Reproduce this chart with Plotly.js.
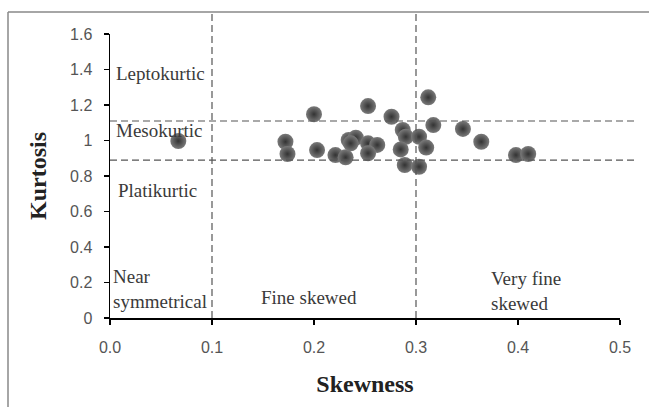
<!DOCTYPE html>
<html>
<head>
<meta charset="utf-8">
<script src="https://cdn.plot.ly/plotly-3.0.1.min.js"></script>
<style>html,body{margin:0;padding:0;background:#fff;}#chart{width:649px;height:407px;}</style>
</head>
<body>
<div id="chart"></div>
<script>
const skewness = [0.067, 0.172, 0.174, 0.200, 0.203, 0.221, 0.231, 0.234, 0.241, 0.236,
  0.253, 0.253, 0.262, 0.253, 0.276, 0.287, 0.290, 0.285, 0.289, 0.303,
  0.303, 0.312, 0.317, 0.310, 0.346, 0.364, 0.398, 0.410];
const kurtosis = [0.997, 0.993, 0.924, 1.148, 0.946, 0.918, 0.905, 1.003, 1.016, 0.984,
  1.194, 0.984, 0.975, 0.928, 1.134, 1.059, 1.021, 0.950, 0.862, 1.021,
  0.852, 1.243, 1.087, 0.960, 1.065, 0.993, 0.918, 0.924];
const skewBounds = [0.1, 0.3];
const kurtBounds = [1.11, 0.89];
const xTicks = [0, 0.1, 0.2, 0.3, 0.4, 0.5];
const yTicks = [0, 0.2, 0.4, 0.6, 0.8, 1, 1.2, 1.4, 1.6];
const regionLabels = ["Leptokurtic", "Mesokurtic", "Platikurtic", "Near<br>symmetrical", "Fine skewed", "Very fine<br>skewed"];
const regionX = [0.004, 0.004, 0.006, 0.001, 0.146, 0.372];
const regionY = [1.375, 1.054, 0.721, 0.163, 0.113, 0.152];

const serif = "Liberation Serif, Times New Roman, serif";
const shapes = [];
skewBounds.forEach(v => shapes.push({type:'line', xref:'x', yref:'paper', x0:v, x1:v, y0:0, y1:1.077,
  line:{color:'#555', width:1.2, dash:'7px,4px'}}));
kurtBounds.forEach(v => shapes.push({type:'line', xref:'paper', yref:'y', x0:0, x1:1.03, y0:v, y1:v,
  line:{color:'#555', width:1.2, dash:'7px,4px'}}));
// outer frame (left and top edges)
shapes.push({type:'line', xref:'paper', yref:'paper', x0:-0.2, x1:-0.2, y0:1.0775, y1:-0.4, line:{color:'#888', width:1.5}});
shapes.push({type:'line', xref:'paper', yref:'paper', x0:-0.2, x1:1.2, y0:1.0775, y1:1.0775, line:{color:'#888', width:1.5}});

const annotations = regionLabels.map((t, i) => ({
  x: regionX[i], y: regionY[i], xref:'x', yref:'y', text:t, showarrow:false,
  xanchor:'left', yanchor:'middle', align:'left',
  font:{family:serif, size:19, color:'#3a3a3a'}
}));

Plotly.newPlot('chart', [{
  type:'scatter', mode:'markers', x:skewness, y:kurtosis,
  marker:{size:16, color:'#7a7a7a', gradient:{type:'radial', color:'#333333'}, line:{width:0}},
  hoverinfo:'x+y', cliponaxis:false
}], {
  width:649, height:407,
  margin:{l:110, r:29, t:34, b:89},
  paper_bgcolor:'#fff', plot_bgcolor:'#fff',
  showlegend:false,
  xaxis:{range:[0,0.5], tickvals:xTicks, tickformat:'.1f', showgrid:false, zeroline:false,
    showline:true, linecolor:'#000', linewidth:1.5, ticks:'outside', ticklen:5, tickcolor:'#000', tickwidth:1.5,
    ticklabelstandoff:9,
    tickfont:{family:'Liberation Sans, Arial, sans-serif', size:16, color:'#555'},
    title:{text:'<b>Skewness</b>', font:{family:serif, size:24, color:'#222'}, standoff:20}},
  yaxis:{range:[0,1.6], tickvals:yTicks, showgrid:false, zeroline:false,
    showline:true, linecolor:'#000', linewidth:1.5, ticks:'outside', ticklen:5, tickcolor:'#000', tickwidth:1.5,
    ticklabelstandoff:8,
    tickfont:{family:'Liberation Sans, Arial, sans-serif', size:16, color:'#555'},
    title:{text:'<b>Kurtosis</b>', font:{family:serif, size:24, color:'#222'}, standoff:16}},
  shapes:shapes,
  annotations:annotations
}, {displayModeBar:false, staticPlot:true});
</script>
</body>
</html>
